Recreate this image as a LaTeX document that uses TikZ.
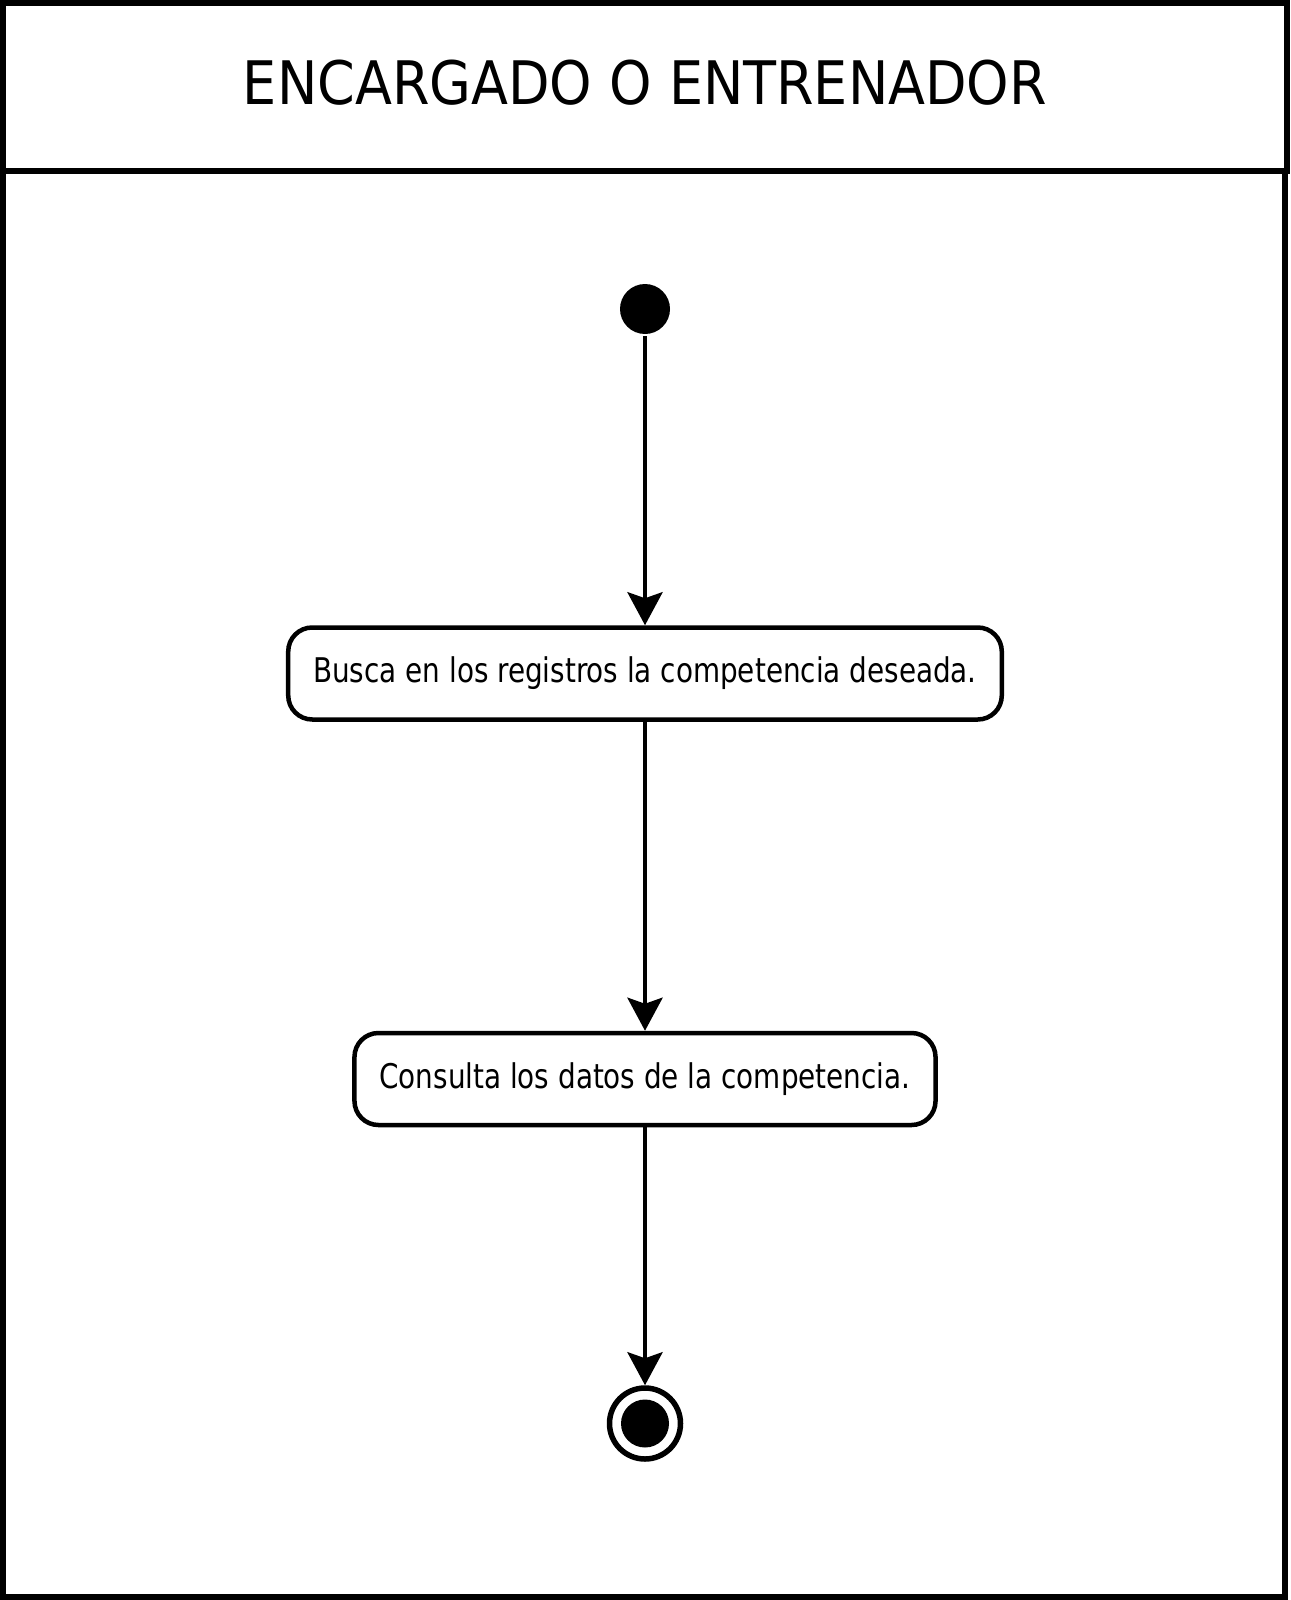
\documentclass[tikz,border=0pt]{standalone}
\usepackage{fontspec}
\setmainfont{DejaVu Sans Condensed}
\newfontfamily\activityfont{DejaVu Sans Condensed}[FakeStretch=0.91]
\usetikzlibrary{positioning, arrows.meta}
\tikzset{>={Stealth[length=33pt, width=35pt, inset=6pt]}}

\begin{document}
\begin{tikzpicture}
    [x=1pt, y=-1pt, line width=4.5pt,
     activity/.style={draw, rounded corners=24pt, minimum height=92pt,
       inner xsep=25pt, font=\activityfont\fontsize{34}{40}\selectfont},
     start state/.style={circle, fill, minimum size=50pt, inner sep=0pt},
     stop state/.style={circle, draw, line width=5.5pt, minimum size=71pt, inner sep=0pt}]
    \useasboundingbox (0,0) rectangle (1290,1600);
    % swimlane
    \draw[line width=6pt] (3,171) rectangle (1285,1597);
    \node[draw, line width=6pt, minimum width=1284pt, minimum height=168pt,
      anchor=north west, outer sep=0pt] (lane) at (3,3) {};
    \node[font=\fontsize{60}{70}\selectfont, yshift=4pt] (title) at (lane.center) {ENCARGADO O ENTRENADOR};

    \node[start state] (start) at (645,309) {};
    \node[activity, below=289pt of start] (busca) {Busca en los registros la competencia deseada.};
    \node[activity, below=309pt of busca] (consulta) {Consulta los datos de la competencia.};
    \node[stop state, below=258pt of consulta] (stop) {};
    \node[start state, minimum size=48pt] (stopdot) at (stop) {};

    \draw[->] (start) -- (busca);
    \draw[->] (busca) -- (consulta);
    \draw[->] (consulta) -- (stop);
\end{tikzpicture}
\end{document}
